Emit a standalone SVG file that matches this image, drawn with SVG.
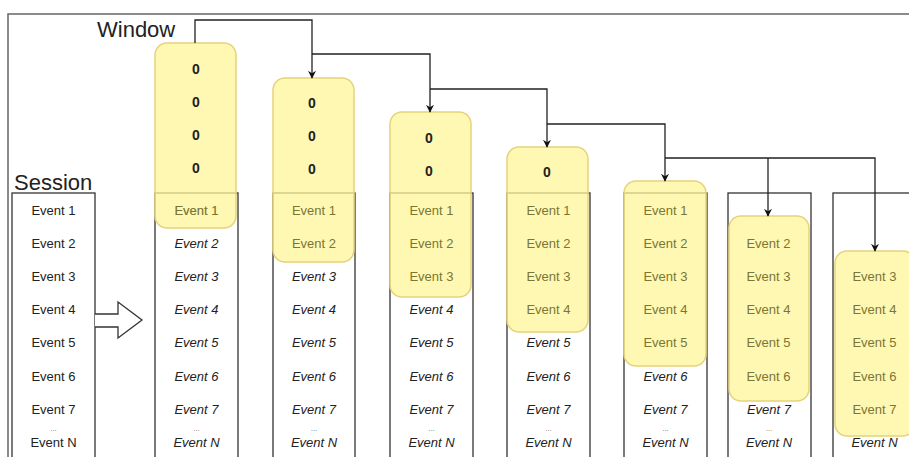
<svg xmlns="http://www.w3.org/2000/svg" width="909" height="457" viewBox="0 0 909 457">
<defs>
<marker id="ah" viewBox="0 0 10 10" refX="9" refY="5" markerWidth="8" markerHeight="8" markerUnits="userSpaceOnUse" orient="auto">
<path d="M0,0 L10,5 L0,10 L3,5 Z" fill="#111"/>
</marker>
</defs>
<style>
.ev{font-family:"Liberation Sans",Arial,sans-serif;font-size:13px;fill:#222;text-anchor:middle}
.it{font-style:italic}
.hl{fill:#7a7633}
.zero{font-family:"Liberation Sans",Arial,sans-serif;font-size:14px;font-weight:bold;fill:#222;text-anchor:middle}
.dots{font-family:"Liberation Sans",Arial,sans-serif;font-size:8px;fill:#777;text-anchor:middle}
.title{font-family:"Liberation Sans",Arial,sans-serif;font-size:22px;fill:#222}
.box{fill:#fff;stroke:#333;stroke-width:1.3}
.win{fill:#fff59a;fill-opacity:0.75;stroke:#e6d27a;stroke-width:1.5}
.con{fill:none;stroke:#222;stroke-width:1.3}
</style>
<rect width="909" height="457" fill="#fff"/>
<rect x="8" y="14" width="920" height="460" fill="none" stroke="#666" stroke-width="1.5"/>
<text class="title" x="97" y="37">Window</text>
<text class="title" x="14" y="190">Session</text>

<g id="session">
<rect class="box" x="12" y="193" width="83" height="280"/>
<text class="ev" x="53.5" y="215">Event 1</text>
<text class="ev" x="53.5" y="248">Event 2</text>
<text class="ev" x="53.5" y="281">Event 3</text>
<text class="ev" x="53.5" y="314">Event 4</text>
<text class="ev" x="53.5" y="347">Event 5</text>
<text class="ev" x="53.5" y="381">Event 6</text>
<text class="ev" x="53.5" y="414">Event 7</text>
<text class="dots" x="53.5" y="431">...</text>
<text class="ev" x="53.5" y="447">Event N</text>
</g>

<g id="bigarrow">
<path d="M95,314 H118 V302 L142,320 L118,338 V327 H95" fill="#fff" stroke="#333" stroke-width="1.3"/>
</g>

<g id="col1">
<rect class="box" x="155" y="193" width="83" height="280"/>
<text class="ev" x="196.5" y="215">Event 1</text>
<text class="ev it" x="196.5" y="248">Event 2</text>
<text class="ev it" x="196.5" y="281">Event 3</text>
<text class="ev it" x="196.5" y="314">Event 4</text>
<text class="ev it" x="196.5" y="347">Event 5</text>
<text class="ev it" x="196.5" y="381">Event 6</text>
<text class="ev it" x="196.5" y="414">Event 7</text>
<text class="dots" x="196.5" y="431">...</text>
<text class="ev it" x="196.5" y="447">Event N</text>
<rect class="win" x="155" y="43" width="81" height="185" rx="12"/>
<text class="ev hl" x="196.5" y="215">Event 1</text>
<text class="zero" x="196" y="74">0</text>
<text class="zero" x="196" y="107">0</text>
<text class="zero" x="196" y="140">0</text>
<text class="zero" x="196" y="173">0</text>
</g>

<g id="col2">
<rect class="box" x="273" y="193" width="82" height="280"/>
<text class="ev it" x="314" y="281">Event 3</text>
<text class="ev it" x="314" y="314">Event 4</text>
<text class="ev it" x="314" y="347">Event 5</text>
<text class="ev it" x="314" y="381">Event 6</text>
<text class="ev it" x="314" y="414">Event 7</text>
<text class="dots" x="314" y="431">...</text>
<text class="ev it" x="314" y="447">Event N</text>
<rect class="win" x="273" y="78" width="81" height="184" rx="12"/>
<text class="ev hl" x="314" y="215">Event 1</text>
<text class="ev hl" x="314" y="248">Event 2</text>
<text class="zero" x="312" y="108">0</text>
<text class="zero" x="312" y="141">0</text>
<text class="zero" x="312" y="174">0</text>
</g>

<g id="col3">
<rect class="box" x="390" y="193" width="83" height="280"/>
<text class="ev it" x="431.5" y="314">Event 4</text>
<text class="ev it" x="431.5" y="347">Event 5</text>
<text class="ev it" x="431.5" y="381">Event 6</text>
<text class="ev it" x="431.5" y="414">Event 7</text>
<text class="dots" x="431.5" y="431">...</text>
<text class="ev it" x="431.5" y="447">Event N</text>
<rect class="win" x="390" y="112" width="81" height="185" rx="12"/>
<text class="ev hl" x="431.5" y="215">Event 1</text>
<text class="ev hl" x="431.5" y="248">Event 2</text>
<text class="ev hl" x="431.5" y="281">Event 3</text>
<text class="zero" x="429" y="143">0</text>
<text class="zero" x="429" y="176">0</text>
</g>

<g id="col4">
<rect class="box" x="507" y="193" width="83" height="280"/>
<text class="ev it" x="548.5" y="347">Event 5</text>
<text class="ev it" x="548.5" y="381">Event 6</text>
<text class="ev it" x="548.5" y="414">Event 7</text>
<text class="dots" x="548.5" y="431">...</text>
<text class="ev it" x="548.5" y="447">Event N</text>
<rect class="win" x="507" y="147" width="81" height="185" rx="12"/>
<text class="ev hl" x="548.5" y="215">Event 1</text>
<text class="ev hl" x="548.5" y="248">Event 2</text>
<text class="ev hl" x="548.5" y="281">Event 3</text>
<text class="ev hl" x="548.5" y="314">Event 4</text>
<text class="zero" x="547" y="177">0</text>
</g>

<g id="col5">
<rect class="box" x="624" y="193" width="83" height="280"/>
<text class="ev it" x="665.5" y="381">Event 6</text>
<text class="ev it" x="665.5" y="414">Event 7</text>
<text class="dots" x="665.5" y="431">...</text>
<text class="ev it" x="665.5" y="447">Event N</text>
<rect class="win" x="624" y="181" width="82" height="185" rx="12"/>
<text class="ev hl" x="665.5" y="215">Event 1</text>
<text class="ev hl" x="665.5" y="248">Event 2</text>
<text class="ev hl" x="665.5" y="281">Event 3</text>
<text class="ev hl" x="665.5" y="314">Event 4</text>
<text class="ev hl" x="665.5" y="347">Event 5</text>
</g>

<g id="col6">
<rect class="box" x="728" y="193" width="83" height="280"/>
<text class="ev it" x="769" y="414">Event 7</text>
<text class="dots" x="769" y="431">...</text>
<text class="ev it" x="769" y="447">Event N</text>
<rect class="win" x="729" y="216" width="80" height="185" rx="12"/>
<text class="ev hl" x="768.5" y="248">Event 2</text>
<text class="ev hl" x="768.5" y="281">Event 3</text>
<text class="ev hl" x="768.5" y="314">Event 4</text>
<text class="ev hl" x="768.5" y="347">Event 5</text>
<text class="ev hl" x="768.5" y="381">Event 6</text>
</g>

<g id="col7">
<rect class="box" x="833" y="193" width="83" height="280"/>
<text class="ev it" x="874.5" y="447">Event N</text>
<rect class="win" x="835" y="251" width="80" height="185" rx="12"/>
<text class="ev hl" x="874.5" y="281">Event 3</text>
<text class="ev hl" x="874.5" y="314">Event 4</text>
<text class="ev hl" x="874.5" y="347">Event 5</text>
<text class="ev hl" x="874.5" y="381">Event 6</text>
<text class="ev hl" x="874.5" y="414">Event 7</text>
</g>

<g id="connectors">
<path class="con" d="M195,43 V20 H312 V78" marker-end="url(#ah)"/>
<path class="con" d="M312,54 H430 V112" marker-end="url(#ah)"/>
<path class="con" d="M430,89 H547 V147" marker-end="url(#ah)"/>
<path class="con" d="M547,124 H665 V181" marker-end="url(#ah)"/>
<path class="con" d="M665,158 H875 V251" marker-end="url(#ah)"/>
<path class="con" d="M768,158 V216" marker-end="url(#ah)"/>
</g>
</svg>
